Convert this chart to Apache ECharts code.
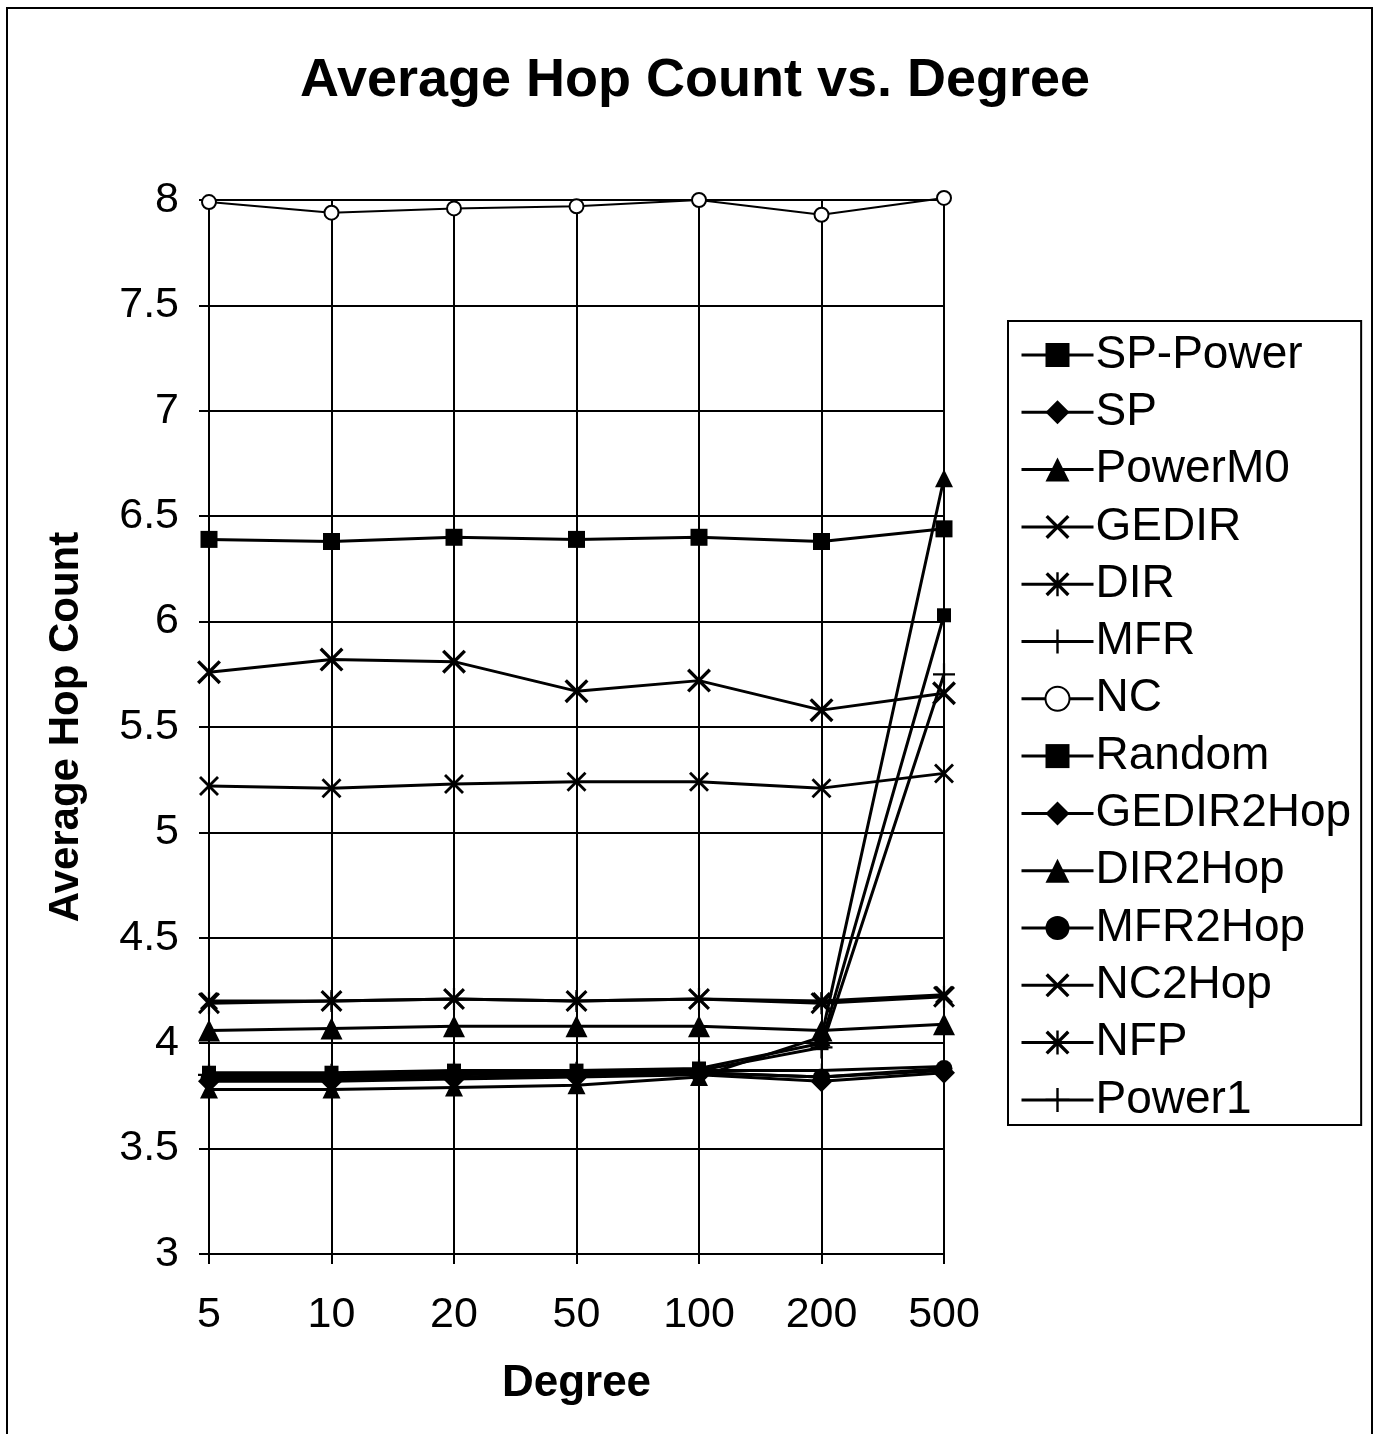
<!DOCTYPE html>
<html>
<head>
<meta charset="utf-8">
<title>Average Hop Count vs. Degree</title>
<script src="https://cdn.jsdelivr.net/npm/echarts@6/dist/echarts.min.js"></script>
<style>
  html, body { margin: 0; padding: 0; background: #fff; }
  #chart { width: 1380px; height: 1434px; }
</style>
</head>
<body>
<div id="chart"></div>
<script>
// data
var degrees = ["5", "10", "20", "50", "100", "200", "500"];
var yTicks = { min: 3, max: 8, step: 0.5 };

var spPower   = [3.86, 3.86, 3.87, 3.87, 3.88, 4.00, 6.03];
var sp        = [3.84, 3.84, 3.85, 3.86, 3.86, 3.84, 3.87];
var powerM0   = [3.78, 3.78, 3.79, 3.80, 3.84, 4.03, 6.68];
var gedir     = [5.22, 5.21, 5.23, 5.24, 5.24, 5.21, 5.28];
var dir       = [4.20, 4.20, 4.21, 4.20, 4.21, 4.20, 4.23];
var mfr       = [3.85, 3.85, 3.86, 3.87, 3.87, 3.87, 3.89];
var nc        = [7.99, 7.94, 7.96, 7.97, 8.00, 7.93, 8.01];
var random    = [6.39, 6.38, 6.40, 6.39, 6.40, 6.38, 6.44];
var gedir2Hop = [3.82, 3.82, 3.83, 3.84, 3.85, 3.82, 3.86];
var dir2Hop   = [4.06, 4.07, 4.08, 4.08, 4.08, 4.06, 4.09];
var mfr2Hop   = [3.83, 3.83, 3.84, 3.85, 3.86, 3.84, 3.88];
var nc2Hop    = [5.76, 5.82, 5.81, 5.67, 5.72, 5.58, 5.66];
var nfp       = [4.19, 4.20, 4.21, 4.20, 4.21, 4.19, 4.22];
var power1    = [3.85, 3.85, 3.86, 3.86, 3.87, 3.98, 5.75];

// marker shapes (filled outlines)
var xMark = "path://M0,2L2,0L10,8L18,0L20,2L12,10L20,18L18,20L10,12L2,20L0,18L8,10Z";
var starMark = "path://M0,2L2,0L10,8L18,0L20,2L12,10L20,18L18,20L10,12L2,20L0,18L8,10Z M9,0H11V8.5H9Z M9,11.5H11V20H9Z";
var plusMark = "path://M9,0H11V9H20V11H11V20H9V11H0V9H9Z";

var font = "'Liberation Sans', Arial, sans-serif";

function line(name, data, symbol, size, width) {
  return {
    name: name,
    type: "line",
    data: data,
    symbol: symbol,
    symbolSize: size,
    showAllSymbol: true,
    clip: false,
    lineStyle: { color: "#000", width: width || 3 },
    itemStyle: symbol === "emptyCircle"
      ? { color: "#000", borderColor: "#000", borderWidth: 2 }
      : { color: "#000", borderWidth: 0 },
    emphasis: { disabled: true },
    z: 3,
  };
}

var chart = echarts.init(document.getElementById("chart"));
var option = {
  backgroundColor: "#fff",
  animation: false,
  title: {
    text: "Average Hop Count vs. Degree",
    left: 690,
    textAlign: "center",
    top: 49,
    textStyle: { fontFamily: font, fontSize: 54, fontWeight: "bold", color: "#000" },
  },
  graphic: [
    {
      type: "rect",
      shape: { x: 7, y: 8, width: 1365, height: 1440 },
      style: { fill: null, stroke: "#000", lineWidth: 2 },
      silent: true,
    },
  ],
  legend: {
    orient: "vertical",
    left: 1008,
    top: 321,
    width: 357,
    padding: [11, 10, 2, 12],
    borderColor: "#000",
    borderWidth: 2,
    itemWidth: 72,
    itemHeight: 30,
    itemGap: 11.3,
    lineStyle: { width: 3 },
    textStyle: { fontFamily: font, fontSize: 46, lineHeight: 45.5, color: "#000", padding: [0, 0, 0, -3] },
    data: ["SP-Power", "SP", "PowerM0", "GEDIR", "DIR", "MFR", "NC", "Random",
           "GEDIR2Hop", "DIR2Hop", "MFR2Hop", "NC2Hop", "NFP", "Power1"],
  },
  grid: { left: 209, right: 436, top: 200, bottom: 180 },
  xAxis: {
    type: "category",
    data: degrees,
    boundaryGap: false,
    name: "Degree",
    nameLocation: "middle",
    nameGap: 108,
    nameTextStyle: { fontFamily: font, fontSize: 44, fontWeight: "bold", color: "#000" },
    axisLine: { lineStyle: { color: "#000", width: 2 } },
    axisTick: { show: true, inside: false, length: 10, alignWithLabel: true, lineStyle: { color: "#000", width: 2 } },
    axisLabel: { fontFamily: font, fontSize: 43, color: "#000", margin: 40 },
    splitLine: { show: true, interval: 0, lineStyle: { color: "#000", width: 2 } },
  },
  yAxis: {
    type: "value",
    min: yTicks.min,
    max: yTicks.max,
    interval: yTicks.step,
    name: "Average Hop Count",
    nameLocation: "middle",
    nameGap: 122,
    nameTextStyle: { fontFamily: font, fontSize: 42, fontWeight: "bold", color: "#000" },
    axisLine: { show: true, lineStyle: { color: "#000", width: 2 } },
    axisTick: { show: true, length: 10, lineStyle: { color: "#000", width: 2 } },
    axisLabel: { fontFamily: font, fontSize: 43, color: "#000", margin: 30 },
    splitLine: { show: true, lineStyle: { color: "#000", width: 2 } },
  },
  series: [
    line("SP-Power", spPower, "rect", 14),
    line("SP", sp, "diamond", 13),
    line("PowerM0", powerM0, "triangle", 18),
    line("GEDIR", gedir, xMark, 20),
    line("DIR", dir, starMark, 18),
    line("MFR", mfr, plusMark, 14),
    line("NC", nc, "emptyCircle", 14, 2),
    line("Random", random, "rect", 17),
    line("GEDIR2Hop", gedir2Hop, "diamond", 22),
    line("DIR2Hop", dir2Hop, "triangle", 22),
    line("MFR2Hop", mfr2Hop, "circle", 17),
    line("NC2Hop", nc2Hop, xMark, 24),
    line("NFP", nfp, starMark, 22),
    line("Power1", power1, plusMark, 22),
  ],
};
chart.setOption(option);
</script>
</body>
</html>
